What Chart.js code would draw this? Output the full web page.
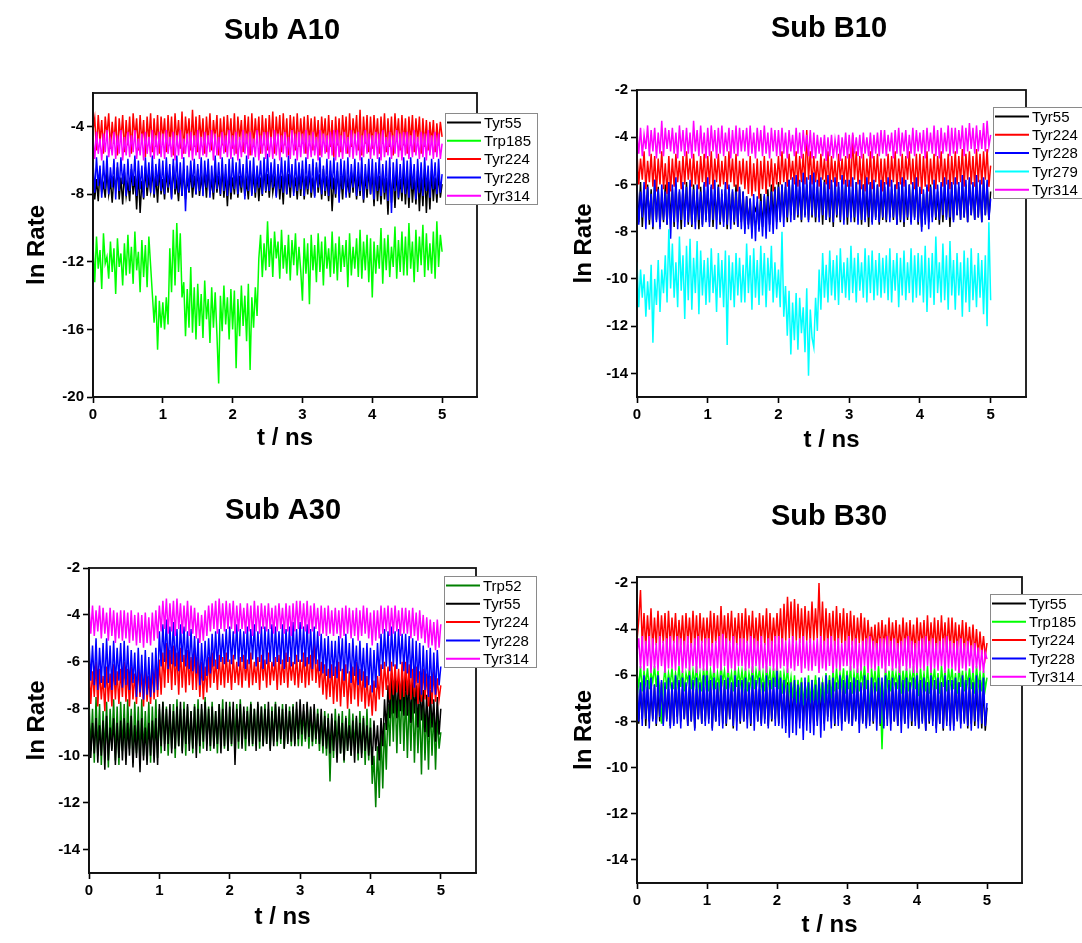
<!DOCTYPE html>
<html>
<head>
<meta charset="utf-8">
<script src="https://cdn.jsdelivr.net/npm/chart.js@4.4.1/dist/chart.umd.min.js"></script>
<style>
  html, body { margin: 0; padding: 0; background: #ffffff; overflow: hidden; width: 1082px; height: 943px; }
  canvas { position: absolute; }
</style>
</head>
<body>
<canvas id="cA10"></canvas>
<canvas id="cB10"></canvas>
<canvas id="cA30"></canvas>
<canvas id="cB30"></canvas>
<script>
// Simulation time (ns) shared by every trace, 25 ps sampling
const timeNs = [
  0,0.025,0.05,0.075,0.1,0.125,0.15,0.175,0.2,0.225,0.25,0.275,0.3,0.325,0.35,0.375,0.4,0.425,0.45,0.475,
  0.5,0.525,0.55,0.575,0.6,0.625,0.65,0.675,0.7,0.725,0.75,0.775,0.8,0.825,0.85,0.875,0.9,0.925,0.95,0.975,
  1,1.025,1.05,1.075,1.1,1.125,1.15,1.175,1.2,1.225,1.25,1.275,1.3,1.325,1.35,1.375,1.4,1.425,1.45,1.475,
  1.5,1.525,1.55,1.575,1.6,1.625,1.65,1.675,1.7,1.725,1.75,1.775,1.8,1.825,1.85,1.875,1.9,1.925,1.95,1.975,
  2,2.025,2.05,2.075,2.1,2.125,2.15,2.175,2.2,2.225,2.25,2.275,2.3,2.325,2.35,2.375,2.4,2.425,2.45,2.475,
  2.5,2.525,2.55,2.575,2.6,2.625,2.65,2.675,2.7,2.725,2.75,2.775,2.8,2.825,2.85,2.875,2.9,2.925,2.95,2.975,
  3,3.025,3.05,3.075,3.1,3.125,3.15,3.175,3.2,3.225,3.25,3.275,3.3,3.325,3.35,3.375,3.4,3.425,3.45,3.475,
  3.5,3.525,3.55,3.575,3.6,3.625,3.65,3.675,3.7,3.725,3.75,3.775,3.8,3.825,3.85,3.875,3.9,3.925,3.95,3.975,
  4,4.025,4.05,4.075,4.1,4.125,4.15,4.175,4.2,4.225,4.25,4.275,4.3,4.325,4.35,4.375,4.4,4.425,4.45,4.475,
  4.5,4.525,4.55,4.575,4.6,4.625,4.65,4.675,4.7,4.725,4.75,4.775,4.8,4.825,4.85,4.875,4.9,4.925,4.95,4.975,
  5];

const xTickValues = [0, 1, 2, 3, 4, 5];
const yTicksA10 = [-20, -16, -12, -8, -4];
const yTicksB10 = [-14, -12, -10, -8, -6, -4, -2];
const yTicksA30 = [-14, -12, -10, -8, -6, -4, -2];
const yTicksB30 = [-14, -12, -10, -8, -6, -4, -2];

// ---- Sub A10 ----
const a10Names = ['Tyr55', 'Trp185', 'Tyr224', 'Tyr228', 'Tyr314'];
const a10Tyr55 = [
  -6.8,-8.3,-7.1,-8.4,-6.5,-7.9,-7.4,-8.2,-6.6,-8.0,-7.2,-8.5,-6.9,-7.7,-6.4,-8.3,-7.0,-8.6,-6.7,-8.1,
  -7.3,-8.4,-6.5,-8.0,-6.9,-8.9,-6.6,-9.1,-7.2,-8.3,-6.4,-8.1,-7.0,-7.8,-6.6,-8.2,-6.9,-8.5,-6.5,-8.0,
  -7.1,-8.3,-6.6,-7.9,-6.8,-8.2,-6.3,-8.0,-7.2,-8.4,-6.7,-8.1,-6.5,-8.3,-7.0,-7.9,-6.6,-8.2,-6.9,-8.0,
  -6.5,-8.1,-7.0,-7.8,-6.7,-8.2,-6.4,-8.0,-7.1,-8.3,-6.6,-7.9,-6.9,-8.1,-6.5,-8.2,-6.8,-8.7,-6.6,-8.3,
  -7.0,-8.0,-6.5,-8.2,-6.9,-7.9,-6.6,-8.1,-7.2,-8.3,-6.4,-8.0,-6.8,-8.2,-6.6,-8.4,-7.0,-8.1,-6.5,-7.9,
  -6.8,-8.2,-6.6,-7.9,-7.1,-8.1,-6.5,-8.3,-6.9,-8.6,-6.4,-8.0,-6.8,-8.2,-6.6,-7.9,-7.0,-8.3,-6.7,-8.1,
  -6.5,-8.3,-6.9,-8.0,-6.6,-8.2,-7.0,-8.1,-6.4,-7.9,-6.8,-8.3,-6.5,-8.1,-6.9,-8.4,-6.6,-9.0,-7.0,-8.2,
  -6.6,-8.1,-6.9,-8.3,-6.5,-8.0,-7.1,-8.2,-6.7,-7.9,-6.5,-8.3,-6.9,-8.1,-6.6,-8.5,-6.8,-8.2,-6.5,-8.0,
  -6.7,-8.7,-6.5,-8.4,-6.9,-8.6,-6.6,-8.3,-7.0,-9.2,-6.4,-8.5,-6.8,-8.8,-6.6,-8.3,-7.1,-8.4,-6.5,-8.6,
  -6.8,-8.8,-6.5,-8.5,-7.0,-8.6,-6.6,-9.0,-6.9,-8.7,-6.5,-9.1,-6.8,-8.9,-6.6,-8.4,-7.0,-8.5,-6.7,-8.2,
  -7.4];
const a10Trp185 = [
  -11.0,-13.2,-10.5,-12.4,-11.3,-13.6,-10.3,-12.1,-11.7,-13.0,-10.8,-12.6,-11.2,-13.9,-10.6,-12.3,-11.5,-13.4,-10.9,-12.8,
  -10.4,-12.7,-11.1,-13.3,-10.2,-12.5,-11.4,-13.8,-10.7,-12.9,-11.0,-13.5,-10.5,-12.2,-13.9,-15.6,-14.0,-17.2,-14.3,-15.9,
  -14.4,-16.0,-14.1,-15.7,-11.2,-13.8,-10.1,-13.4,-9.7,-12.6,-10.3,-14.1,-13.2,-16.4,-13.6,-15.9,-12.3,-16.2,-13.5,-16.6,
  -13.3,-15.8,-13.9,-16.5,-13.1,-15.4,-14.2,-16.8,-13.5,-15.9,-13.8,-16.3,-19.2,-14.0,-16.1,-13.4,-15.7,-14.1,-16.6,-13.6,
  -16.0,-13.7,-18.3,-14.2,-16.4,-13.4,-15.8,-14.0,-16.7,-13.3,-18.4,-14.1,-15.9,-13.5,-15.2,-11.8,-10.4,-12.9,-10.9,-12.5,
  -9.6,-12.3,-10.6,-12.9,-10.2,-11.8,-10.8,-13.0,-10.1,-12.4,-11.0,-12.7,-10.4,-13.1,-10.7,-12.2,-10.3,-12.8,-11.1,-12.5,
  -14.3,-10.6,-12.7,-10.9,-14.5,-10.4,-12.5,-11.0,-13.2,-10.3,-12.6,-10.8,-13.4,-10.5,-12.4,-11.2,-12.9,-10.2,-12.7,-10.9,
  -13.1,-10.5,-12.6,-11.0,-12.3,-10.7,-13.5,-10.3,-12.8,-11.1,-12.4,-10.6,-12.9,-10.1,-13.0,-10.8,-12.5,-10.4,-13.2,-10.6,
  -14.1,-10.8,-12.7,-11.0,-12.4,-10.0,-13.3,-10.6,-12.5,-10.4,-12.9,-11.1,-12.3,-9.9,-13.0,-10.7,-12.6,-10.2,-12.8,-10.5,
  -12.8,-9.7,-12.4,-10.8,-13.2,-10.1,-12.6,-10.5,-12.2,-9.8,-12.9,-10.3,-12.5,-10.9,-12.7,-10.2,-13.0,-9.6,-12.3,-10.4,
  -11.4];
const a10Tyr224 = [
  -4.2,-3.5,-5.4,-3.3,-4.9,-3.6,-5.6,-3.4,-4.6,-3.2,-5.3,-3.7,-5.0,-3.4,-5.7,-3.5,-4.8,-3.3,-5.5,-3.6,
  -5.1,-3.4,-5.6,-3.2,-4.7,-3.5,-5.4,-3.3,-5.0,-3.6,-5.8,-3.4,-4.9,-3.2,-5.5,-3.5,-5.2,-3.3,-5.6,-3.4,
  -4.8,-3.5,-5.5,-3.3,-5.1,-3.4,-5.7,-3.2,-4.9,-3.6,-5.3,-3.1,-5.6,-3.4,-4.8,-3.5,-5.4,-3.0,-5.2,-3.4,
  -5.5,-3.3,-4.9,-3.5,-5.6,-3.4,-5.0,-3.2,-5.4,-3.6,-4.8,-3.3,-5.7,-3.5,-5.1,-3.4,-5.5,-3.3,-4.9,-3.5,
  -5.3,-3.2,-5.6,-3.4,-4.8,-3.6,-5.5,-3.3,-5.0,-3.4,-5.7,-3.2,-5.2,-3.5,-4.9,-3.4,-5.6,-3.3,-5.1,-3.5,
  -5.4,-3.3,-5.0,-3.1,-5.6,-3.4,-4.9,-3.3,-5.5,-3.2,-5.1,-3.5,-5.7,-3.3,-4.8,-3.4,-5.4,-3.2,-5.2,-3.5,
  -5.0,-3.4,-5.6,-3.3,-4.9,-3.5,-5.4,-3.4,-5.1,-3.6,-5.7,-3.4,-4.8,-3.5,-5.5,-3.3,-5.2,-3.6,-5.8,-3.4,
  -5.1,-3.5,-5.5,-3.3,-4.9,-3.4,-5.6,-3.2,-5.2,-3.5,-4.8,-3.3,-5.4,-3.0,-5.7,-3.4,-5.0,-3.3,-5.5,-3.4,
  -5.3,-3.3,-4.9,-3.5,-5.6,-3.4,-5.0,-3.2,-5.5,-3.5,-5.2,-3.4,-5.7,-3.2,-4.8,-3.5,-5.4,-3.3,-5.1,-3.5,
  -5.6,-3.4,-5.0,-3.3,-5.5,-3.5,-4.9,-3.4,-5.6,-3.5,-5.2,-3.6,-5.4,-3.7,-5.0,-3.6,-5.5,-3.8,-5.1,-3.7,
  -4.6];
const a10Tyr228 = [
  -6.1,-7.9,-5.8,-7.5,-6.3,-8.2,-6.0,-7.7,-5.7,-8.0,-6.4,-7.6,-5.9,-8.3,-6.1,-7.8,-5.8,-7.4,-6.2,-8.1,
  -5.9,-7.8,-6.2,-7.5,-5.7,-8.1,-6.0,-7.7,-6.3,-8.2,-5.8,-7.6,-6.1,-7.9,-5.7,-8.0,-6.2,-7.5,-5.9,-7.8,
  -6.0,-8.0,-5.8,-7.6,-6.2,-8.3,-5.9,-7.7,-5.7,-7.9,-6.1,-8.1,-5.8,-9.0,-6.3,-7.8,-6.0,-7.6,-5.9,-8.0,
  -6.2,-7.8,-5.8,-8.1,-6.0,-7.6,-5.9,-8.2,-6.3,-7.9,-5.7,-7.7,-6.1,-8.0,-5.8,-7.8,-6.2,-8.1,-5.9,-7.9,
  -5.8,-7.7,-6.1,-8.0,-5.9,-7.6,-6.2,-8.3,-5.7,-7.8,-6.0,-8.1,-5.8,-7.9,-6.3,-7.6,-6.0,-8.0,-5.8,-7.8,
  -5.6,-7.8,-6.1,-7.6,-5.9,-8.2,-6.2,-7.7,-5.8,-7.9,-6.0,-8.0,-5.7,-7.6,-6.2,-8.1,-5.9,-7.8,-6.1,-7.7,
  -6.0,-8.1,-5.8,-7.7,-6.2,-7.9,-5.9,-8.2,-6.1,-7.6,-5.8,-8.0,-6.3,-7.8,-5.9,-8.1,-6.0,-7.7,-5.8,-8.0,
  -6.1,-8.5,-5.9,-7.7,-6.0,-8.2,-5.8,-7.9,-6.2,-7.6,-5.9,-8.1,-6.1,-7.8,-5.8,-8.3,-6.2,-7.7,-5.9,-8.0,
  -5.9,-8.3,-6.1,-7.8,-5.8,-8.1,-6.2,-7.9,-6.0,-8.4,-5.8,-9.1,-6.1,-7.8,-5.9,-8.2,-6.2,-7.9,-5.8,-8.0,
  -6.0,-8.2,-5.8,-7.7,-6.2,-8.3,-5.9,-7.9,-6.1,-8.1,-5.8,-7.8,-6.3,-8.2,-5.9,-7.7,-6.1,-8.0,-5.9,-7.9,
  -6.8];
const a10Tyr314 = [
  -4.6,-5.9,-4.3,-5.6,-4.7,-6.0,-4.4,-5.5,-4.2,-5.8,-4.8,-5.7,-4.3,-5.9,-4.5,-5.6,-4.2,-6.0,-4.6,-5.7,
  -4.3,-5.8,-4.5,-5.5,-4.2,-5.9,-4.7,-5.7,-4.4,-6.0,-4.3,-5.6,-4.6,-5.8,-4.2,-5.9,-4.5,-5.7,-4.3,-5.8,
  -4.4,-5.9,-4.2,-5.6,-4.6,-5.8,-4.3,-6.0,-4.5,-5.7,-4.2,-5.9,-4.7,-5.6,-4.4,-5.8,-4.3,-6.0,-4.5,-5.7,
  -4.2,-5.9,-4.6,-5.7,-4.3,-5.8,-4.5,-5.5,-4.2,-6.0,-4.4,-5.7,-4.6,-5.9,-4.3,-5.6,-4.5,-5.8,-4.2,-5.9,
  -4.5,-5.7,-4.3,-6.0,-4.6,-5.8,-4.2,-5.6,-4.4,-5.9,-4.3,-5.7,-4.7,-5.8,-4.2,-6.0,-4.5,-5.6,-4.3,-5.9,
  -4.3,-5.8,-4.6,-5.9,-4.2,-5.7,-4.4,-6.0,-4.5,-5.6,-4.3,-5.8,-4.6,-5.9,-4.2,-5.7,-4.4,-6.0,-4.3,-5.8,
  -4.4,-5.6,-4.2,-5.9,-4.5,-5.8,-4.3,-5.7,-4.6,-6.0,-4.2,-5.8,-4.4,-5.6,-4.5,-5.9,-4.3,-5.7,-4.2,-6.0,
  -4.2,-5.8,-4.5,-5.9,-4.3,-5.6,-4.6,-5.8,-4.2,-5.9,-4.4,-5.7,-4.3,-6.0,-4.5,-5.8,-4.2,-5.6,-4.4,-5.9,
  -4.5,-5.7,-4.3,-5.9,-4.4,-6.0,-4.2,-5.8,-4.6,-5.7,-4.3,-5.9,-4.5,-5.6,-4.2,-5.8,-4.4,-6.0,-4.3,-5.7,
  -4.3,-5.9,-4.5,-5.8,-4.2,-5.7,-4.6,-5.9,-4.3,-5.8,-4.4,-6.0,-4.2,-5.7,-4.5,-5.9,-4.3,-5.8,-4.4,-5.9,
  -5.0];

// ---- Sub B10 ----
const b10Names = ['Tyr55', 'Tyr224', 'Tyr228', 'Tyr279', 'Tyr314'];
const b10Tyr55 = [
  -6.1,-7.6,-5.9,-7.8,-6.3,-7.4,-6.0,-7.7,-6.2,-7.9,-5.8,-7.5,-6.1,-7.8,-6.4,-7.6,-6.0,-7.7,-5.9,-7.5,
  -6.2,-7.8,-6.0,-7.6,-6.3,-7.9,-6.1,-7.5,-5.9,-7.7,-6.2,-7.8,-6.0,-7.6,-6.4,-7.9,-6.1,-7.7,-6.0,-7.5,
  -6.2,-7.6,-6.1,-7.8,-6.3,-7.5,-6.0,-7.7,-6.4,-7.6,-6.2,-7.9,-6.1,-7.5,-6.3,-7.7,-6.0,-7.8,-6.2,-7.6,
  -6.3,-7.9,-6.5,-7.7,-6.6,-8.0,-6.9,-7.1,-6.8,-7.9,-6.4,-7.8,-6.5,-7.6,-6.2,-7.7,-6.0,-7.5,-6.1,-7.6,
  -5.9,-7.5,-6.0,-7.4,-6.1,-7.6,-5.8,-7.3,-6.0,-7.5,-5.9,-7.4,-6.1,-7.6,-5.8,-7.3,-6.0,-7.5,-5.9,-7.4,
  -5.9,-7.6,-6.1,-7.4,-6.0,-7.7,-5.8,-7.5,-6.1,-7.6,-6.0,-7.8,-5.9,-7.4,-6.1,-7.6,-5.8,-7.5,-6.0,-7.7,
  -6.0,-7.4,-6.2,-7.6,-5.9,-7.5,-6.1,-7.7,-6.0,-7.5,-6.2,-7.8,-5.9,-7.6,-6.1,-7.4,-6.0,-7.7,-6.2,-7.5,
  -6.1,-7.6,-5.9,-7.4,-6.2,-7.5,-6.0,-7.7,-6.1,-7.6,-5.9,-7.8,-6.2,-7.5,-6.0,-7.6,-6.1,-7.4,-5.9,-7.7,
  -6.2,-7.8,-6.4,-7.5,-6.1,-7.6,-6.0,-7.4,-6.2,-7.5,-6.3,-7.7,-6.1,-7.6,-6.0,-7.4,-6.2,-7.8,-6.0,-7.5,
  -6.0,-7.3,-6.1,-7.5,-5.9,-7.4,-6.0,-7.6,-5.8,-7.3,-6.1,-7.5,-5.9,-7.4,-6.0,-7.6,-5.8,-7.3,-6.0,-7.5,
  -6.3];
const b10Tyr224 = [
  -4.7,-6.0,-4.9,-5.8,-4.6,-6.2,-5.0,-5.9,-4.7,-6.1,-4.8,-6.3,-4.9,-6.0,-4.6,-6.2,-5.1,-6.4,-4.8,-6.3,
  -4.9,-6.1,-4.7,-5.9,-5.0,-6.2,-4.8,-6.0,-4.6,-5.8,-4.9,-6.1,-4.7,-6.0,-5.0,-6.2,-4.8,-5.9,-4.7,-6.1,
  -4.8,-6.0,-4.6,-6.2,-4.9,-5.9,-4.7,-6.1,-5.0,-6.0,-4.8,-6.2,-4.6,-5.9,-4.9,-6.1,-4.7,-6.3,-5.0,-6.0,
  -4.9,-6.2,-5.0,-6.4,-4.8,-6.5,-5.1,-6.3,-4.9,-6.6,-5.0,-6.2,-4.8,-6.4,-5.0,-6.1,-4.9,-6.3,-5.1,-6.0,
  -4.8,-6.0,-4.6,-5.9,-4.9,-6.1,-4.7,-5.8,-5.0,-6.0,-4.6,-6.1,-4.8,-5.9,-4.7,-6.0,-3.7,-5.8,-4.6,-6.0,
  -4.8,-5.9,-5.0,-6.1,-4.7,-5.8,-4.9,-6.0,-4.6,-6.2,-4.8,-5.9,-5.0,-6.1,-4.7,-5.8,-4.9,-6.0,-4.8,-6.1,
  -4.7,-6.1,-3.9,-5.8,-4.6,-6.0,-4.8,-6.2,-4.7,-6.3,-4.9,-6.0,-4.6,-6.2,-4.8,-5.9,-4.7,-6.1,-4.9,-6.3,
  -4.9,-6.0,-4.7,-6.1,-4.8,-5.9,-4.6,-6.2,-4.9,-6.0,-4.7,-6.1,-4.8,-5.8,-4.6,-6.0,-4.9,-6.2,-4.7,-6.1,
  -4.7,-6.4,-4.8,-6.1,-4.6,-6.3,-4.9,-6.0,-4.7,-6.2,-4.8,-5.9,-4.6,-6.1,-4.9,-6.0,-4.7,-6.2,-4.8,-6.0,
  -4.6,-6.0,-4.8,-5.9,-4.5,-6.1,-4.7,-5.8,-4.6,-6.0,-4.8,-6.1,-4.5,-5.9,-4.7,-6.0,-4.6,-5.8,-4.5,-6.1,
  -5.2];
const b10Tyr228 = [
  -6.0,-7.7,-6.3,-7.4,-5.9,-7.9,-6.1,-7.5,-6.4,-7.8,-5.8,-7.6,-6.2,-7.9,-6.0,-7.5,-6.3,-7.7,-5.9,-8.3,
  -6.0,-7.6,-5.7,-7.9,-6.2,-7.5,-5.9,-7.8,-6.1,-7.6,-5.8,-7.7,-6.2,-7.9,-6.0,-7.5,-6.3,-7.8,-5.9,-7.6,
  -5.7,-7.8,-6.0,-7.5,-5.8,-7.9,-6.1,-7.6,-6.2,-7.8,-5.9,-7.7,-6.0,-7.9,-6.2,-7.6,-6.3,-7.8,-6.1,-7.9,
  -6.3,-8.1,-6.5,-7.9,-6.6,-8.3,-6.4,-8.4,-6.5,-8.0,-6.7,-8.2,-6.4,-8.3,-6.5,-8.0,-6.3,-8.1,-6.2,-7.9,
  -6.1,-7.6,-6.0,-7.8,-5.9,-7.4,-5.8,-7.6,-5.7,-7.5,-5.6,-7.3,-5.8,-7.5,-5.5,-7.4,-5.7,-7.6,-5.6,-7.3,
  -5.5,-7.4,-5.8,-7.6,-5.7,-7.3,-5.9,-7.5,-5.6,-7.4,-5.8,-7.6,-5.7,-7.3,-5.9,-7.5,-5.6,-7.7,-5.8,-7.4,
  -5.8,-7.6,-5.7,-7.4,-5.9,-7.7,-5.8,-7.5,-6.0,-7.6,-5.7,-7.4,-5.9,-7.7,-5.8,-7.5,-6.0,-7.6,-5.8,-7.4,
  -5.9,-7.5,-5.7,-7.6,-5.8,-7.4,-6.0,-7.7,-5.9,-7.5,-5.7,-7.6,-5.8,-7.4,-6.0,-7.7,-5.9,-7.5,-5.7,-7.6,
  -6.1,-8.0,-6.2,-7.7,-6.0,-7.9,-6.1,-7.6,-5.8,-7.4,-6.0,-7.5,-5.9,-7.3,-5.7,-7.5,-5.8,-7.4,-5.9,-7.6,
  -5.7,-7.3,-5.9,-7.5,-5.6,-7.4,-5.8,-7.6,-5.7,-7.3,-5.9,-7.5,-5.6,-7.4,-5.8,-7.6,-5.7,-7.3,-5.8,-7.5,
  -6.6];
const b10Tyr279 = [
  -9.3,-11.2,-9.6,-10.8,-9.8,-11.6,-10.1,-11.3,-9.4,-12.7,-10.0,-11.1,-9.2,-11.4,-9.6,-10.6,-9.0,-11.0,-7.9,-10.4,
  -8.5,-10.8,-9.3,-11.2,-8.2,-10.5,-9.0,-11.7,-8.6,-10.9,-8.3,-11.3,-9.1,-10.6,-8.4,-11.5,-8.8,-10.7,-9.2,-11.1,
  -9.1,-11.0,-8.7,-10.6,-9.4,-11.4,-8.9,-10.8,-9.2,-11.2,-8.8,-12.8,-9.0,-10.9,-9.3,-11.2,-8.9,-10.7,-9.1,-11.0,
  -9.4,-11.0,-8.5,-10.6,-9.0,-11.3,-8.7,-10.8,-9.2,-11.1,-8.6,-10.7,-8.9,-11.2,-9.1,-10.5,-8.6,-11.0,-9.3,-10.8,
  -9.6,-11.2,-8.0,-11.6,-10.3,-12.4,-10.5,-13.2,-11.0,-12.6,-10.6,-13.0,-10.8,-12.3,-11.2,-13.1,-10.4,-14.1,-11.3,-12.5,
  -12.9,-10.8,-12.2,-9.6,-11.3,-8.9,-10.8,-9.4,-11.0,-8.8,-10.7,-9.2,-10.9,-9.0,-11.1,-8.7,-10.6,-9.3,-10.8,-9.1,
  -10.9,-8.6,-10.6,-9.1,-11.0,-8.9,-10.5,-9.3,-10.8,-8.7,-11.0,-9.0,-10.6,-8.8,-10.9,-9.2,-10.7,-8.9,-10.8,-9.1,
  -10.6,-9.0,-10.9,-8.7,-11.0,-9.2,-10.5,-8.9,-11.2,-9.1,-10.7,-8.8,-10.9,-9.3,-10.6,-8.7,-11.0,-9.0,-10.8,-8.9,
  -10.7,-9.0,-11.0,-8.6,-11.4,-9.1,-10.8,-8.9,-11.1,-8.2,-10.6,-9.3,-11.0,-8.5,-10.9,-9.0,-11.3,-8.4,-10.7,-9.2,
  -11.3,-8.9,-10.7,-9.3,-11.6,-8.8,-11.0,-9.1,-11.4,-8.7,-10.9,-9.4,-11.2,-8.9,-10.8,-9.2,-11.5,-9.0,-12.0,-7.6,
  -10.9];
const b10Tyr314 = [
  -3.8,-4.7,-3.6,-4.8,-3.9,-4.5,-3.5,-4.8,-3.7,-4.6,-3.6,-4.9,-3.8,-4.7,-3.3,-4.8,-3.6,-4.5,-3.7,-4.6,
  -3.6,-4.7,-3.8,-4.9,-3.5,-4.6,-3.7,-4.8,-3.6,-4.7,-3.8,-4.9,-3.3,-4.6,-3.7,-4.8,-3.5,-4.7,-3.8,-4.9,
  -3.6,-4.8,-3.5,-4.6,-3.7,-4.9,-3.6,-4.7,-3.5,-4.8,-3.8,-4.6,-3.6,-4.9,-3.7,-4.7,-3.5,-4.8,-3.6,-4.6,
  -3.7,-4.6,-3.6,-4.8,-3.5,-4.7,-3.8,-4.9,-3.6,-4.6,-3.7,-4.8,-3.5,-4.7,-3.8,-4.9,-3.6,-4.6,-3.7,-4.8,
  -3.7,-4.8,-3.6,-4.7,-3.8,-4.9,-3.7,-4.6,-3.9,-4.8,-3.6,-4.7,-3.8,-4.9,-3.7,-4.6,-3.9,-4.8,-3.7,-4.9,
  -3.8,-4.9,-3.9,-4.7,-4.0,-4.8,-3.9,-5.0,-4.0,-4.8,-3.9,-4.9,-4.1,-4.7,-3.9,-5.0,-4.0,-4.8,-3.8,-4.9,
  -3.9,-4.9,-3.8,-4.7,-4.0,-4.8,-3.9,-4.9,-3.8,-4.7,-4.0,-4.8,-3.8,-4.9,-3.9,-4.7,-3.8,-4.8,-3.7,-4.7,
  -3.7,-4.8,-3.9,-4.6,-3.8,-4.9,-3.7,-4.7,-3.6,-4.8,-3.8,-4.6,-3.7,-4.9,-3.9,-4.7,-3.6,-4.8,-3.7,-4.6,
  -3.8,-4.7,-3.7,-4.9,-3.6,-4.6,-3.8,-4.7,-3.5,-4.8,-3.7,-4.9,-3.6,-4.7,-3.8,-4.6,-3.5,-4.8,-3.6,-4.7,
  -3.6,-4.7,-3.7,-4.5,-3.5,-4.8,-3.6,-4.6,-3.4,-4.5,-3.6,-4.7,-3.5,-4.6,-3.7,-4.5,-3.4,-4.6,-3.3,-4.4,
  -3.9];

// ---- Sub A30 ----
const a30Names = ['Trp52', 'Tyr55', 'Tyr224', 'Tyr228', 'Tyr314'];
const a30Trp52 = [
  -7.6,-9.8,-8.0,-10.3,-7.5,-10.0,-7.8,-10.4,-8.1,-9.9,-7.7,-10.5,-8.0,-9.7,-7.6,-10.2,-7.9,-10.4,-7.7,-9.8,
  -7.8,-10.1,-7.6,-9.7,-8.0,-10.3,-7.7,-9.9,-7.9,-10.2,-7.6,-10.0,-8.1,-9.8,-7.7,-10.3,-7.9,-9.9,-7.6,-10.1,
  -8.0,-9.9,-7.7,-9.5,-7.9,-10.0,-8.1,-9.7,-7.8,-10.1,-7.6,-9.6,-8.0,-9.8,-7.7,-10.0,-7.9,-9.5,-8.1,-9.9,
  -7.8,-9.6,-7.6,-9.9,-8.0,-9.7,-7.5,-9.5,-7.9,-9.8,-7.7,-9.6,-8.1,-9.9,-7.8,-9.5,-7.6,-9.7,-8.0,-9.8,
  -7.7,-9.6,-8.0,-9.4,-7.8,-9.7,-7.6,-9.5,-8.1,-9.8,-7.9,-9.4,-7.7,-9.6,-8.0,-9.5,-7.8,-9.7,-7.9,-9.6,
  -7.8,-9.5,-8.0,-9.7,-7.9,-9.4,-7.7,-9.6,-8.0,-9.5,-7.8,-9.7,-8.1,-9.4,-7.9,-9.6,-7.8,-9.5,-8.0,-9.6,
  -7.9,-9.6,-8.1,-9.4,-7.8,-9.7,-8.0,-9.6,-8.2,-9.5,-8.0,-9.8,-8.3,-9.9,-8.1,-10.0,-8.2,-11.1,-8.4,-10.1,
  -8.0,-9.7,-8.2,-9.9,-8.1,-10.3,-8.3,-9.8,-8.0,-10.0,-8.2,-9.6,-8.4,-10.2,-8.1,-9.9,-8.3,-10.4,-8.0,-10.2,
  -8.4,-11.2,-10.0,-12.2,-9.6,-11.8,-8.9,-11.4,-8.6,-10.6,-7.8,-9.6,-7.2,-9.4,-7.0,-9.9,-7.3,-9.5,-6.9,-9.8,
  -7.3,-10.1,-7.5,-9.8,-7.2,-10.3,-7.6,-9.9,-7.8,-10.8,-7.5,-10.2,-7.9,-10.6,-7.7,-10.0,-8.0,-10.6,-8.2,-9.7,
  -9.0];
const a30Tyr55 = [
  -8.3,-10.1,-8.6,-9.9,-8.4,-10.3,-8.7,-10.0,-8.5,-10.6,-8.3,-10.2,-8.8,-9.8,-8.4,-10.4,-8.6,-10.1,-8.5,-10.2,
  -8.4,-10.4,-8.6,-10.0,-8.3,-10.5,-8.7,-10.1,-8.5,-10.7,-8.4,-10.2,-8.8,-10.4,-8.6,-10.0,-8.5,-10.3,-8.4,-10.4,
  -7.8,-9.6,-7.7,-9.8,-8.0,-9.5,-7.8,-9.9,-8.1,-9.7,-7.9,-9.6,-7.7,-9.9,-8.0,-9.5,-7.8,-9.8,-8.1,-9.7,
  -7.9,-10.1,-8.0,-9.6,-7.8,-9.4,-7.7,-9.8,-8.0,-9.6,-7.9,-9.7,-8.1,-9.5,-7.8,-9.9,-8.0,-9.6,-7.7,-9.8,
  -7.9,-9.5,-7.7,-10.4,-8.0,-9.4,-7.8,-9.7,-7.9,-9.3,-8.1,-9.6,-7.8,-9.5,-8.0,-9.8,-7.7,-9.4,-7.9,-9.6,
  -8.0,-9.5,-7.7,-9.8,-8.1,-9.6,-7.8,-9.4,-7.9,-9.3,-8.0,-9.7,-7.8,-9.5,-8.1,-9.4,-7.9,-9.6,-7.7,-9.3,
  -7.6,-9.1,-7.8,-9.3,-7.7,-9.2,-7.9,-9.4,-7.8,-9.3,-8.2,-9.5,-8.0,-9.6,-8.3,-9.7,-8.4,-9.9,-8.2,-9.8,
  -8.5,-10.3,-8.3,-9.9,-8.6,-10.2,-8.4,-9.8,-8.7,-10.0,-8.5,-10.3,-8.3,-9.9,-8.6,-10.1,-8.4,-9.8,-8.7,-10.0,
  -8.8,-10.4,-8.5,-9.8,-8.7,-10.2,-8.4,-9.6,-7.6,-8.9,-7.0,-8.4,-6.5,-8.2,-6.6,-8.4,-6.8,-8.1,-6.4,-8.3,
  -6.4,-8.3,-6.7,-8.6,-6.5,-8.2,-7.0,-8.8,-6.8,-8.5,-7.2,-9.0,-7.4,-9.2,-7.2,-8.8,-7.6,-9.4,-7.5,-9.1,
  -8.0];
const a30Tyr224 = [
  -6.1,-7.8,-6.4,-7.5,-6.0,-7.9,-6.3,-7.6,-6.6,-8.1,-6.2,-7.7,-6.5,-7.9,-6.1,-7.6,-6.4,-7.8,-6.3,-7.5,
  -6.0,-7.7,-6.3,-7.9,-6.2,-7.6,-6.5,-7.8,-6.1,-7.5,-6.4,-7.9,-6.2,-7.7,-6.6,-7.8,-6.3,-7.6,-6.0,-7.5,
  -5.9,-7.4,-5.6,-7.1,-5.2,-6.9,-5.5,-7.2,-5.3,-7.0,-5.6,-7.4,-5.4,-7.1,-5.7,-7.3,-5.5,-7.0,-5.8,-7.2,
  -5.4,-7.2,-5.8,-7.5,-6.0,-7.6,-6.2,-7.3,-5.8,-7.1,-5.6,-6.9,-5.9,-7.2,-5.7,-7.0,-5.8,-7.1,-5.6,-6.9,
  -5.9,-7.2,-5.7,-6.9,-6.0,-7.0,-5.8,-7.1,-5.7,-6.8,-5.9,-7.1,-5.6,-7.0,-6.0,-6.9,-5.8,-7.2,-5.7,-6.8,
  -5.9,-7.1,-5.6,-7.0,-6.0,-6.8,-5.8,-7.2,-5.7,-7.0,-5.9,-6.9,-5.6,-7.1,-5.8,-6.8,-6.0,-7.0,-5.7,-7.1,
  -5.9,-6.9,-5.6,-7.1,-5.8,-7.0,-5.7,-6.8,-5.0,-6.9,-5.9,-7.1,-6.0,-7.4,-6.1,-7.6,-6.3,-7.5,-6.1,-7.8,
  -6.2,-7.7,-6.0,-7.9,-6.3,-7.5,-6.1,-8.0,-6.4,-7.8,-6.2,-7.6,-6.0,-7.9,-6.3,-7.7,-6.4,-8.0,-6.6,-7.9,
  -7.0,-8.3,-6.8,-8.1,-6.6,-7.6,-6.1,-7.5,-6.0,-7.2,-6.2,-7.6,-6.0,-7.4,-6.1,-7.3,-6.3,-7.6,-6.0,-7.5,
  -6.0,-7.4,-6.1,-7.6,-6.3,-7.5,-6.2,-7.8,-6.4,-7.7,-6.3,-7.6,-6.5,-7.9,-6.6,-7.8,-6.4,-7.7,-6.7,-7.6,
  -7.0];
const a30Tyr228 = [
  -5.1,-6.8,-5.3,-7.0,-5.0,-7.2,-5.4,-6.9,-5.2,-7.1,-5.0,-6.9,-5.3,-7.2,-5.1,-7.0,-5.4,-6.8,-5.2,-7.1,
  -5.1,-7.0,-5.3,-7.2,-5.5,-6.9,-5.6,-7.5,-5.4,-7.3,-5.7,-7.6,-5.5,-7.4,-5.8,-7.5,-5.6,-7.3,-5.4,-7.2,
  -4.7,-6.2,-4.4,-6.0,-4.2,-6.3,-4.5,-6.1,-4.3,-6.2,-4.6,-6.4,-4.4,-6.0,-4.5,-6.2,-4.7,-6.3,-4.6,-6.4,
  -4.9,-6.5,-5.0,-7.0,-5.2,-6.8,-5.1,-6.6,-5.0,-6.5,-4.8,-6.2,-4.7,-6.3,-4.6,-6.0,-4.8,-6.1,-4.6,-6.0,
  -4.5,-6.1,-4.7,-5.9,-4.4,-6.2,-4.6,-6.0,-4.7,-6.3,-4.5,-6.1,-4.6,-5.9,-4.4,-6.2,-4.7,-6.0,-4.5,-6.3,
  -4.5,-6.1,-4.6,-6.0,-4.4,-6.2,-4.5,-6.0,-4.7,-6.1,-4.4,-6.3,-4.6,-6.0,-4.5,-6.2,-4.3,-6.1,-4.6,-6.0,
  -4.3,-6.0,-4.5,-6.2,-4.4,-6.1,-4.6,-6.3,-4.5,-6.1,-4.7,-6.4,-4.8,-6.5,-5.0,-6.6,-4.9,-6.7,-5.1,-6.6,
  -5.1,-6.7,-4.9,-6.4,-5.0,-6.8,-4.8,-6.5,-5.2,-6.9,-5.0,-6.6,-5.3,-7.0,-5.1,-6.8,-5.4,-7.1,-5.2,-7.0,
  -5.4,-7.3,-5.5,-7.1,-5.2,-6.6,-4.8,-6.3,-4.6,-6.2,-4.7,-6.4,-4.5,-6.2,-4.7,-6.3,-4.6,-6.1,-4.8,-6.4,
  -4.8,-6.5,-4.9,-6.7,-5.0,-7.1,-5.1,-6.9,-5.2,-7.4,-5.3,-7.2,-5.5,-7.5,-5.4,-7.3,-5.6,-7.4,-5.5,-7.0,
  -6.2];
const a30Tyr314 = [
  -3.7,-4.8,-3.6,-4.9,-3.8,-4.7,-3.6,-5.0,-3.7,-4.8,-3.9,-5.1,-3.7,-4.9,-3.8,-5.2,-3.9,-5.0,-3.8,-5.1,
  -3.8,-5.0,-3.9,-5.2,-3.8,-5.1,-4.0,-5.3,-3.9,-5.2,-4.0,-5.4,-3.9,-5.2,-4.1,-5.3,-3.9,-5.1,-3.8,-5.0,
  -3.6,-4.7,-3.4,-4.6,-3.3,-4.8,-3.5,-4.7,-3.4,-4.9,-3.3,-4.6,-3.5,-4.8,-3.6,-4.7,-3.4,-4.9,-3.6,-4.8,
  -3.7,-5.0,-3.9,-5.2,-4.0,-5.1,-3.8,-4.9,-3.6,-4.7,-3.5,-4.6,-3.4,-4.8,-3.3,-4.6,-3.5,-4.7,-3.4,-4.6,
  -3.5,-4.6,-3.4,-4.8,-3.6,-4.7,-3.5,-4.6,-3.7,-4.8,-3.5,-4.7,-3.6,-4.9,-3.4,-4.7,-3.6,-4.8,-3.5,-4.6,
  -3.6,-4.7,-3.5,-4.6,-3.7,-4.8,-3.6,-4.7,-3.5,-4.6,-3.7,-4.8,-3.5,-4.7,-3.6,-4.9,-3.5,-4.7,-3.4,-4.6,
  -3.4,-4.6,-3.5,-4.7,-3.4,-4.8,-3.6,-4.7,-3.5,-4.6,-3.7,-4.9,-3.6,-4.8,-3.7,-4.9,-3.6,-4.8,-3.8,-4.9,
  -3.7,-4.8,-3.8,-5.0,-3.7,-4.9,-3.6,-4.8,-3.7,-5.0,-3.8,-4.9,-3.7,-5.1,-3.8,-4.9,-3.6,-4.8,-3.7,-5.0,
  -3.9,-5.3,-3.8,-5.1,-3.8,-5.0,-3.6,-4.8,-3.7,-4.7,-3.6,-4.9,-3.7,-4.8,-3.6,-4.7,-3.8,-4.9,-3.7,-4.8,
  -3.7,-4.8,-3.8,-5.0,-3.7,-4.9,-3.9,-5.1,-3.8,-5.0,-4.0,-5.2,-4.1,-5.4,-4.2,-5.3,-4.3,-5.5,-4.2,-5.4,
  -4.4];

// ---- Sub B30 ----
const b30Names = ['Tyr55', 'Trp185', 'Tyr224', 'Tyr228', 'Tyr314'];
const b30Tyr55 = [
  -6.4,-8.1,-6.6,-7.9,-6.3,-8.2,-6.5,-8.0,-6.7,-7.9,-6.4,-8.2,-6.6,-8.0,-6.3,-8.1,-6.5,-7.9,-6.6,-8.2,
  -6.4,-8.1,-6.5,-7.8,-6.3,-8.0,-6.6,-7.9,-6.4,-8.2,-6.5,-8.0,-6.3,-8.3,-6.6,-7.9,-6.4,-8.1,-6.5,-8.0,
  -6.5,-7.9,-6.3,-8.3,-6.6,-8.0,-6.4,-7.8,-6.5,-8.1,-6.3,-8.2,-6.6,-7.9,-6.4,-8.3,-6.5,-8.0,-6.3,-8.1,
  -6.3,-8.0,-6.6,-7.9,-6.4,-8.2,-6.5,-7.8,-6.3,-8.0,-6.6,-8.1,-6.4,-7.9,-6.5,-8.2,-6.3,-8.0,-6.6,-7.9,
  -6.5,-8.1,-6.4,-7.9,-6.6,-8.2,-6.3,-8.0,-6.5,-7.9,-6.4,-8.1,-6.6,-8.0,-6.3,-8.2,-6.5,-7.9,-6.4,-8.1,
  -6.4,-8.2,-6.2,-8.0,-6.5,-7.9,-6.3,-8.1,-6.4,-7.8,-6.6,-8.0,-6.3,-8.2,-6.5,-7.9,-6.4,-8.1,-6.2,-8.0,
  -6.5,-8.0,-6.3,-8.2,-6.6,-7.9,-6.4,-8.1,-6.5,-8.0,-6.3,-8.2,-6.6,-8.0,-6.4,-8.1,-6.5,-7.9,-6.3,-8.2,
  -6.3,-8.2,-6.6,-7.9,-6.4,-8.1,-6.5,-8.0,-6.3,-8.2,-6.6,-8.0,-6.4,-8.1,-6.5,-7.9,-6.3,-8.2,-6.6,-8.0,
  -6.6,-8.3,-6.4,-8.0,-6.5,-8.4,-6.3,-8.1,-6.6,-8.0,-6.4,-8.3,-6.5,-8.1,-6.3,-8.4,-6.6,-8.0,-6.4,-8.2,
  -6.4,-8.2,-6.5,-7.9,-6.3,-8.1,-6.6,-8.0,-6.4,-8.3,-6.5,-8.1,-6.3,-8.2,-6.6,-8.0,-6.4,-8.3,-6.5,-8.4,
  -7.4];
const b30Trp185 = [
  -5.9,-6.5,-5.6,-6.7,-5.8,-6.4,-5.7,-6.6,-5.9,-6.3,-5.6,-6.5,-5.8,-6.7,-8.1,-6.4,-5.7,-6.6,-5.9,-6.4,
  -5.7,-6.6,-5.9,-6.4,-5.6,-6.5,-5.8,-6.7,-5.9,-6.3,-5.7,-6.6,-5.8,-6.4,-5.6,-6.5,-5.9,-6.7,-5.7,-6.4,
  -5.6,-6.7,-5.8,-6.4,-5.7,-6.6,-5.9,-6.5,-5.6,-6.3,-5.8,-6.6,-5.7,-6.4,-5.9,-6.7,-5.6,-6.5,-5.8,-6.4,
  -5.8,-6.5,-5.7,-6.7,-5.9,-6.4,-5.6,-6.6,-5.8,-6.3,-5.7,-6.5,-5.9,-6.7,-5.6,-6.4,-5.8,-6.6,-5.7,-6.5,
  -5.5,-6.6,-5.8,-6.8,-5.9,-6.5,-5.7,-6.7,-6.1,-7.0,-6.0,-7.2,-6.2,-6.9,-6.1,-7.3,-6.3,-7.0,-6.0,-7.2,
  -6.2,-7.1,-6.0,-7.3,-6.1,-6.9,-6.3,-7.2,-5.9,-6.8,-6.0,-7.0,-5.8,-6.7,-5.7,-6.6,-5.9,-6.5,-5.7,-6.8,
  -5.8,-6.6,-5.6,-6.8,-5.9,-6.5,-5.7,-6.7,-5.8,-6.4,-5.6,-6.6,-5.9,-7.9,-5.7,-6.5,-5.8,-6.7,-5.6,-6.6,
  -9.2,-6.8,-5.7,-6.5,-5.8,-6.7,-5.7,-6.4,-5.9,-6.6,-5.6,-6.8,-5.8,-6.5,-5.7,-6.7,-5.9,-6.4,-5.6,-6.6,
  -5.8,-6.9,-5.7,-6.5,-5.9,-6.7,-5.6,-6.8,-5.8,-6.4,-5.7,-6.6,-5.9,-6.8,-5.6,-6.5,-5.8,-6.7,-5.7,-6.4,
  -5.7,-6.6,-5.9,-6.8,-5.6,-6.5,-5.8,-6.7,-5.9,-6.4,-5.7,-6.6,-5.8,-6.8,-5.6,-6.5,-5.9,-6.7,-5.8,-6.6,
  -6.1];
const b30Tyr224 = [
  -4.5,-3.6,-2.3,-4.7,-3.3,-4.8,-3.4,-4.6,-3.1,-4.9,-3.5,-4.7,-3.2,-4.8,-3.4,-4.6,-3.3,-4.9,-3.2,-4.7,
  -3.5,-4.6,-3.3,-4.8,-3.6,-4.7,-3.4,-4.9,-3.3,-4.6,-3.5,-4.8,-3.2,-4.7,-3.4,-4.9,-3.3,-4.6,-3.5,-4.8,
  -3.5,-4.7,-3.2,-4.8,-3.3,-4.6,-3.4,-4.9,-3.0,-4.7,-3.4,-4.8,-3.3,-4.6,-3.2,-4.9,-3.5,-4.7,-3.3,-4.8,
  -3.3,-4.8,-3.1,-4.6,-3.4,-4.7,-3.2,-4.9,-3.5,-4.8,-3.3,-4.6,-3.4,-4.7,-3.1,-4.9,-3.3,-4.8,-3.5,-4.6,
  -3.3,-4.6,-3.1,-4.8,-2.9,-4.5,-2.6,-4.4,-2.8,-4.6,-2.7,-4.5,-2.9,-4.6,-3.1,-4.7,-3.0,-4.5,-3.2,-4.6,
  -2.8,-4.5,-3.1,-4.4,-2.0,-4.6,-2.8,-4.8,-3.1,-4.7,-3.3,-4.6,-3.2,-4.8,-3.0,-4.7,-3.3,-4.6,-3.1,-4.8,
  -3.3,-4.8,-3.2,-4.7,-3.4,-4.9,-3.5,-4.6,-3.3,-4.8,-3.5,-4.9,-3.6,-4.7,-3.9,-4.9,-3.8,-5.0,-3.7,-4.9,
  -3.6,-4.8,-3.8,-5.0,-3.5,-4.9,-3.7,-4.8,-3.6,-5.0,-3.8,-4.9,-3.5,-4.8,-3.7,-5.0,-3.6,-4.9,-3.8,-5.1,
  -3.5,-4.9,-3.7,-4.8,-3.6,-5.0,-3.4,-4.9,-3.7,-4.8,-3.5,-5.0,-3.6,-4.9,-3.4,-4.8,-3.7,-5.0,-3.5,-4.9,
  -3.5,-4.9,-3.7,-5.0,-3.8,-4.8,-3.6,-5.1,-3.7,-4.9,-3.9,-5.0,-3.8,-5.1,-4.0,-5.2,-4.1,-5.1,-4.3,-5.2,
  -4.6];
const b30Tyr228 = [
  -6.1,-8.0,-6.3,-8.2,-6.0,-7.9,-6.2,-8.3,-6.1,-8.0,-6.4,-8.1,-6.0,-7.8,-6.2,-8.2,-6.3,-8.0,-6.1,-8.3,
  -6.3,-8.2,-6.0,-8.1,-6.2,-8.3,-6.1,-7.9,-6.3,-8.2,-6.0,-8.0,-6.2,-8.4,-6.1,-7.9,-6.3,-8.1,-6.0,-8.2,
  -6.0,-8.1,-6.2,-8.4,-6.1,-8.0,-6.3,-8.2,-6.0,-8.3,-6.2,-8.1,-6.1,-7.9,-6.3,-8.2,-6.0,-8.4,-6.2,-8.0,
  -6.2,-8.0,-6.1,-8.3,-6.3,-8.1,-6.0,-8.4,-6.2,-8.0,-6.1,-8.2,-6.3,-8.1,-6.0,-8.3,-6.2,-7.9,-6.1,-8.2,
  -5.8,-8.2,-6.1,-8.3,-6.2,-8.5,-6.4,-8.7,-6.3,-8.5,-6.2,-8.6,-6.4,-8.3,-6.3,-8.8,-6.1,-8.4,-6.3,-8.5,
  -6.2,-8.6,-6.4,-8.2,-6.1,-8.7,-6.3,-8.4,-6.0,-8.0,-6.2,-8.3,-6.1,-8.1,-6.3,-8.2,-6.0,-8.4,-6.2,-8.0,
  -6.0,-8.1,-6.3,-8.2,-6.1,-8.0,-6.2,-8.5,-6.3,-8.1,-6.0,-8.3,-6.2,-8.2,-6.1,-8.0,-6.3,-8.4,-6.1,-8.1,
  -6.1,-8.3,-6.0,-8.2,-6.2,-8.4,-6.1,-8.0,-6.3,-8.2,-6.0,-8.5,-6.2,-8.1,-6.1,-8.3,-6.3,-8.0,-6.1,-8.2,
  -6.0,-8.3,-6.2,-8.1,-6.1,-8.4,-6.3,-8.0,-6.0,-8.2,-6.2,-8.5,-6.1,-8.1,-6.3,-8.3,-6.0,-8.2,-6.2,-8.4,
  -6.2,-8.4,-6.1,-8.0,-6.3,-8.3,-6.0,-8.1,-6.2,-8.2,-6.1,-8.4,-6.3,-8.0,-6.0,-8.3,-6.2,-8.1,-6.1,-8.2,
  -7.2];
const b30Tyr314 = [
  -5.0,-4.4,-5.7,-4.3,-5.8,-4.5,-5.6,-4.3,-5.9,-4.4,-5.7,-4.6,-5.8,-4.3,-5.6,-4.5,-5.9,-4.4,-5.7,-4.3,
  -5.7,-4.5,-5.8,-4.3,-5.6,-4.4,-5.9,-4.5,-5.7,-4.3,-5.8,-4.6,-5.6,-4.4,-5.9,-4.3,-5.7,-4.5,-5.8,-4.4,
  -5.8,-4.4,-5.6,-4.6,-5.9,-4.5,-5.7,-4.3,-5.8,-4.2,-5.6,-4.4,-5.9,-4.5,-5.7,-4.3,-5.8,-4.6,-5.6,-4.4,
  -5.6,-4.4,-5.8,-4.5,-5.7,-4.3,-5.9,-4.4,-5.6,-4.5,-5.8,-4.3,-5.7,-4.6,-5.9,-4.4,-5.6,-4.5,-5.8,-4.3,
  -5.8,-4.3,-5.7,-4.4,-5.6,-4.5,-5.9,-4.4,-5.7,-4.3,-5.8,-4.5,-5.6,-4.4,-5.9,-4.3,-5.7,-4.5,-5.8,-4.4,
  -5.8,-4.5,-5.6,-4.4,-5.9,-4.3,-5.7,-4.5,-5.8,-4.4,-5.6,-4.3,-5.9,-4.5,-5.7,-4.4,-5.8,-4.6,-5.6,-4.5,
  -5.6,-4.3,-5.8,-4.5,-5.7,-4.4,-5.9,-4.6,-5.8,-4.5,-5.6,-4.4,-5.9,-4.3,-5.7,-4.5,-5.8,-4.6,-5.6,-4.4,
  -5.7,-4.4,-5.9,-4.3,-5.6,-4.5,-5.8,-4.4,-5.7,-4.6,-5.9,-4.5,-5.6,-4.4,-5.8,-4.3,-5.7,-4.5,-5.9,-4.6,
  -5.9,-4.5,-5.7,-4.4,-5.8,-4.3,-5.6,-4.5,-5.9,-4.4,-5.7,-4.6,-5.8,-4.5,-5.6,-4.4,-5.9,-4.3,-5.7,-4.5,
  -5.7,-4.6,-5.8,-4.5,-5.9,-4.4,-5.7,-4.6,-5.8,-4.5,-5.6,-4.7,-5.9,-4.6,-5.7,-4.8,-5.8,-4.9,-5.9,-5.0,
  -5.3];

// ---- drawing ----
const FONT = '"Liberation Sans", Arial, Helvetica, sans-serif';
const BLACK = '#000000', LIME = '#00ff00', RED = '#ff0000', BLUE = '#0000ff',
      MAGENTA = '#ff00ff', CYAN = '#00ffff', DKGREEN = '#008000';

// Outer frame (top and right sides included) drawn over the traces
const framePlugin = {
  id: 'frame',
  afterDatasetsDraw(chart) {
    const {ctx, chartArea: a} = chart;
    ctx.save();
    ctx.strokeStyle = '#111';
    ctx.lineWidth = 1.8;
    ctx.strokeRect(a.left, a.top, a.right - a.left, a.bottom - a.top);
    ctx.restore();
  }
};

// Panel heading and boxed legend
const labelsPlugin = {
  id: 'panelLabels',
  afterDraw(chart, args, o) {
    const ctx = chart.ctx;
    ctx.save();
    ctx.fillStyle = '#000';
    ctx.font = 'bold 29px ' + FONT;
    ctx.textAlign = 'center';
    ctx.textBaseline = 'middle';
    ctx.fillText(o.title, o.titleX, o.titleY);

    const lg = o.legend;
    ctx.fillStyle = '#fff';
    ctx.fillRect(lg.x, lg.y, lg.w, lg.h);
    ctx.strokeStyle = '#8a8a8a';
    ctx.lineWidth = 1;
    ctx.strokeRect(lg.x + 0.5, lg.y + 0.5, lg.w, lg.h);
    ctx.font = '15px ' + FONT;
    ctx.textAlign = 'left';
    chart.data.datasets.forEach((ds, i) => {
      const y = lg.y + 9.5 + i * 18.3;
      ctx.strokeStyle = ds.borderColor;
      ctx.lineWidth = 2;
      ctx.beginPath();
      ctx.moveTo(lg.x + 2, y);
      ctx.lineTo(lg.x + 36, y);
      ctx.stroke();
      ctx.fillStyle = '#000';
      ctx.fillText(ds.label, lg.x + 39, y + 1);
    });
    ctx.restore();
  }
};

function makePanel(id, p) {
  const el = document.getElementById(id);
  const c = p.canvas, f = p.frame;
  el.style.left = c.x + 'px';
  el.style.top = c.y + 'px';
  el.width = c.w;
  el.height = c.h;
  const yAxisW = f.l - c.x;
  const xAxisH = c.y + c.h - f.b;
  const half = 24 * 1.2 / 2;
  const tickFont = {family: FONT, size: 15, weight: 'bold'};
  const titleFont = {family: FONT, size: 24, weight: 'bold'};
  const grid = {display: true, drawOnChartArea: false, drawTicks: true, tickLength: 6, tickColor: '#000', tickWidth: 1.6};
  const border = {display: true, color: '#111', width: 1.8};

  new Chart(el, {
    type: 'line',
    data: {
      datasets: p.series.map((s, i) => ({
        label: s.label,
        data: timeNs.map((t, k) => ({x: t, y: s.values[k]})),
        borderColor: s.color,
        borderWidth: 1.5,
        pointRadius: 0,
        tension: 0,
        fill: false,
        order: p.series.length - i
      }))
    },
    options: {
      responsive: false,
      animation: false,
      devicePixelRatio: 1,
      events: [],
      layout: {padding: {left: 0, top: f.t - c.y, right: c.x + c.w - f.r, bottom: 0}},
      plugins: {
        legend: {display: false},
        tooltip: {enabled: false},
        panelLabels: {
          title: p.title,
          titleX: p.titleAt[0] - c.x,
          titleY: p.titleAt[1] - c.y,
          legend: {x: p.legendAt[0] - c.x, y: p.legendAt[1] - c.y, w: 92, h: 91}
        }
      },
      scales: {
        x: {
          type: 'linear', min: 0, max: 5.5,
          afterBuildTicks: s => { s.ticks = xTickValues.map(v => ({value: v})); },
          afterFit: s => { s.height = xAxisH; },
          ticks: {autoSkip: false, maxRotation: 0, padding: 3, color: '#000', font: tickFont},
          grid, border,
          title: {display: true, text: 't / ns', color: '#000', font: titleFont,
                  padding: {top: 0, bottom: c.y + c.h - p.xTitleY - half}}
        },
        y: {
          type: 'linear', min: p.yMin, max: p.yMax,
          afterBuildTicks: s => { s.ticks = p.yTicks.map(v => ({value: v})); },
          afterFit: s => { s.width = yAxisW; },
          ticks: {autoSkip: false, padding: 3, color: '#000', font: tickFont},
          grid, border,
          title: {display: true, text: 'ln Rate', color: '#000', font: titleFont,
                  padding: {top: p.yTitleX - c.x - half, bottom: 0}}
        }
      }
    },
    plugins: [framePlugin, labelsPlugin]
  });
}

makePanel('cA10', {
  title: 'Sub A10', titleAt: [282, 31],
  canvas: {x: 3, y: 0, w: 544, h: 457},
  frame: {l: 93, t: 93, r: 477, b: 397},
  yMin: -20, yMax: -2, yTicks: yTicksA10,
  yTitleX: 37, xTitleY: 438,
  legendAt: [445, 113],
  series: [
    {label: a10Names[0], values: a10Tyr55, color: BLACK},
    {label: a10Names[1], values: a10Trp185, color: LIME},
    {label: a10Names[2], values: a10Tyr224, color: RED},
    {label: a10Names[3], values: a10Tyr228, color: BLUE},
    {label: a10Names[4], values: a10Tyr314, color: MAGENTA}
  ]
});

makePanel('cB10', {
  title: 'Sub B10', titleAt: [829, 29],
  canvas: {x: 547, y: 0, w: 535, h: 457},
  frame: {l: 637, t: 90, r: 1026, b: 397},
  yMin: -15, yMax: -2, yTicks: yTicksB10,
  yTitleX: 584, xTitleY: 440,
  legendAt: [993, 107],
  series: [
    {label: b10Names[0], values: b10Tyr55, color: BLACK},
    {label: b10Names[1], values: b10Tyr224, color: RED},
    {label: b10Names[2], values: b10Tyr228, color: BLUE},
    {label: b10Names[3], values: b10Tyr279, color: CYAN},
    {label: b10Names[4], values: b10Tyr314, color: MAGENTA}
  ]
});

makePanel('cA30', {
  title: 'Sub A30', titleAt: [283, 511],
  canvas: {x: 0, y: 470, w: 546, h: 463},
  frame: {l: 89, t: 568, r: 476, b: 873},
  yMin: -15, yMax: -2, yTicks: yTicksA30,
  yTitleX: 37.5, xTitleY: 917,
  legendAt: [444, 576],
  series: [
    {label: a30Names[0], values: a30Trp52, color: DKGREEN},
    {label: a30Names[1], values: a30Tyr55, color: BLACK},
    {label: a30Names[2], values: a30Tyr224, color: RED},
    {label: a30Names[3], values: a30Tyr228, color: BLUE},
    {label: a30Names[4], values: a30Tyr314, color: MAGENTA}
  ]
});

makePanel('cB30', {
  title: 'Sub B30', titleAt: [829, 517],
  canvas: {x: 547, y: 470, w: 535, h: 473},
  frame: {l: 637, t: 577, r: 1022, b: 883},
  yMin: -15, yMax: -1.74, yTicks: yTicksB30,
  yTitleX: 584, xTitleY: 925,
  legendAt: [990, 594],
  series: [
    {label: b30Names[0], values: b30Tyr55, color: BLACK},
    {label: b30Names[1], values: b30Trp185, color: LIME},
    {label: b30Names[2], values: b30Tyr224, color: RED},
    {label: b30Names[3], values: b30Tyr228, color: BLUE},
    {label: b30Names[4], values: b30Tyr314, color: MAGENTA}
  ]
});
</script>
</body>
</html>
